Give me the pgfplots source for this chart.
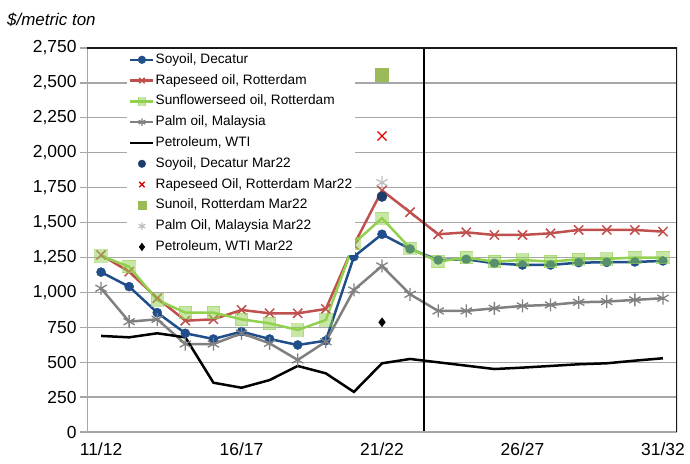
\documentclass[border=0pt]{standalone}
\usepackage{pgfplots}
\pgfplotsset{compat=1.18}
\usepackage{fontspec}
\setmainfont{Liberation Sans}
\definecolor{soy}{HTML}{1F4E8A}
\definecolor{soym}{HTML}{1F3D6B}
\definecolor{rape}{HTML}{C0504D}
\definecolor{rapem}{HTML}{E00000}
\definecolor{sun}{HTML}{92D050}
\definecolor{sunl}{HTML}{C4E5A0}
\definecolor{sunm}{HTML}{9BBB59}
\definecolor{palm}{HTML}{808080}
\definecolor{palmm}{HTML}{BFBFBF}
\definecolor{gridc}{HTML}{A6A6A6}
\begin{document}
\begin{tikzpicture}
\path[use as bounding box] (0,0) rectangle (690bp,464bp);
\node[anchor=west,font=\fontsize{17}{20}\selectfont\itshape,inner sep=0pt] at (7bp,444bp) {\$/metric ton};
\begin{axis}[
  at={(87bp,32bp)}, anchor=south west,
  scale only axis, width=590bp, height=384bp,
  xmin=-0.5, xmax=20.5, ymin=0, ymax=2750,
  ytick={0,250,...,2750},
  xtick={0,5,10,15,20},
  xticklabels={11/12,16/17,21/22,26/27,31/32},
  minor xtick={-0.5,0.5,...,20.5},
  ymajorgrids, grid style={gridc, line width=1.2bp},
  axis line style={draw=none},
  tick align=outside, tick pos=left,
  major tick length=7bp, minor tick length=6bp,
  xtick style={draw=none},
  ytick style={gridc, line width=1.2bp},
  minor tick style={gridc, line width=1.2bp},
  ticklabel style={font=\fontsize{17.5}{20}\selectfont},
  /pgf/number format/assume math mode=true,
  /pgf/number format/.cd, fixed, 1000 sep={,}, /pgfplots/.cd,
  legend cell align=left,
  legend style={at={(0.0678,0.992)}, anchor=north west, draw=none, fill=white,
    font=\fontsize{13.7}{15}\selectfont, row sep=6.8bp, inner xsep=2bp, inner ysep=1.5bp,
    nodes={inner xsep=1bp, inner ysep=0.5bp, text height=10bp, text depth=3bp}},
  legend image code/.code={\draw[mark repeat=2,mark phase=2,#1] plot coordinates {(0bp,0bp) (11.5bp,0bp) (23bp,0bp)};},
  legend image post style={mark size=3.8bp},
]
\addplot[soy, line width=2.5bp, mark=*, mark size=4.5bp, mark options={fill=soy, draw=soy, line width=0.5bp}] coordinates {
(0,1145) (1,1041) (2,855) (3,707) (4,666) (5,719) (6,666) (7,623) (8,654) (9,1256) (10,1416) (11,1311)
(12,1232) (13,1237) (14,1208) (15,1196) (16,1196) (17,1213) (18,1215) (19,1218) (20,1225)};
\addlegendentry{Soyoil, Decatur}
\addplot[rape, line width=2.5bp, mark=x, mark size=6.5bp, mark options={line width=1.5bp}] coordinates {
(0,1268) (1,1148) (2,958) (3,797) (4,807) (5,874) (6,850) (7,850) (8,881) (9,1340) (10,1730) (11,1574)
(12,1416) (13,1430) (14,1411) (15,1411) (16,1423) (17,1447) (18,1447) (19,1447) (20,1435)};
\addlegendentry{Rapeseed oil, Rotterdam}
\addplot[sun, line width=2.5bp, mark=square*, mark size=6.2bp, mark options={fill=sun, draw=sun, line width=0pt, opacity=0.5}] coordinates {
(0,1261) (1,1184) (2,946) (3,855) (4,855) (5,807) (6,778) (7,731) (8,802) (9,1351) (10,1531) (11,1316)
(12,1220) (13,1249) (14,1220) (15,1232) (16,1220) (17,1237) (18,1240) (19,1249) (20,1249)};
\addlegendentry{Sunflowerseed oil, Rotterdam}
\addplot[palm, line width=2.5bp, mark=asterisk, mark size=6.5bp, mark options={line width=1.3bp}] coordinates {
(0,1029) (1,790) (2,807) (3,630) (4,630) (5,707) (6,635) (7,516) (8,647) (9,1017) (10,1189) (11,986)
(12,867) (13,867) (14,886) (15,903) (16,910) (17,929) (18,934) (19,946) (20,958)};
\addlegendentry{Palm oil, Malaysia}
\addplot[black, line width=2.5bp, no marks] coordinates {
(0,688) (1,678) (2,707) (3,678) (4,353) (5,317) (6,372) (7,473) (8,420) (9,287) (10,492) (11,523)
(12,499) (13,475) (14,451) (15,461) (16,473) (17,485) (18,492) (19,511) (20,528)};
\addlegendentry{Petroleum, WTI}
\addplot[soym, only marks, mark=*, mark size=5bp] coordinates {(10,1686)};
\addlegendentry{Soyoil, Decatur Mar22}
\addplot[rapem, only marks, mark=x, mark size=6.5bp, mark options={line width=1.3bp}] coordinates {(10,2120)};
\addlegendentry{Rapeseed Oil, Rotterdam Mar22}
\addplot[sunm, only marks, mark=square*, mark size=6.5bp] coordinates {(10,2562)};
\addlegendentry{Sunoil, Rotterdam Mar22}
\addplot[palmm, only marks, mark=asterisk, mark size=6.5bp, mark options={line width=1.3bp}] coordinates {(10,1786)};
\addlegendentry{Palm Oil, Malaysia Mar22}
\addplot[black, only marks, mark=diamond*, mark size=4.5bp] coordinates {(10,786)};
\addlegendentry{Petroleum, WTI Mar22}
\draw[black, line width=1.5bp] (axis cs:11.5,0) -- (axis cs:11.5,2750);
\draw[gridc, line width=1.5bp] (rel axis cs:0,1) -- (rel axis cs:0,0) -- (rel axis cs:1,0);
\draw[black!90, line width=1.5bp] (rel axis cs:0,1) -- (rel axis cs:1,1) -- (rel axis cs:1,0);
\end{axis}
\end{tikzpicture}
\end{document}
